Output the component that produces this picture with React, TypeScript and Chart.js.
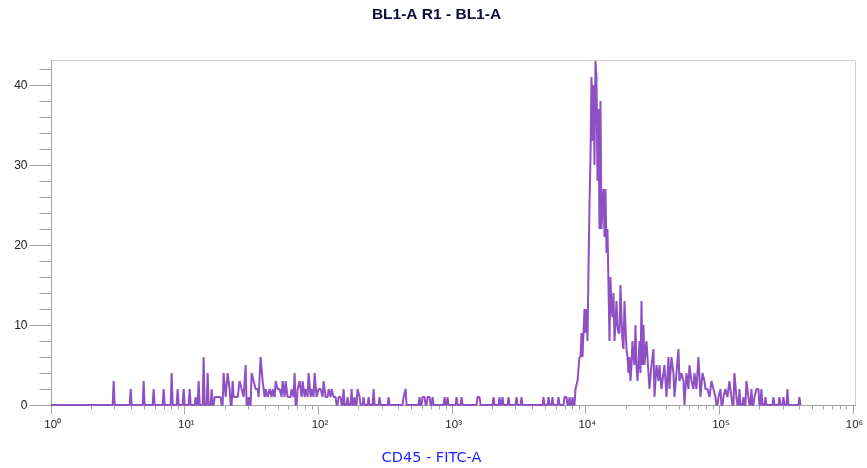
import { useEffect, useRef } from 'react';
import { Chart, registerables } from 'chart.js';

Chart.register(...registerables);

// Histogram bins: channel index (133.7 channels per decade, channel 0 = 10^0) and event counts
const CHANNELS_PER_DECADE = 133.7;
const END_CHANNEL = 750;

const binChannels = [
  63, 80, 93, 103, 113, 121, 127, 133, 139, 145, 148, 153, 157, 161, 164, 166, 168, 170, 173, 175,
  177, 179, 182, 183, 185, 187, 189, 191, 193, 195, 198, 201, 203, 205, 207, 208, 210, 212, 214, 215,
  217, 219, 221, 222, 224, 225, 227, 229, 231, 232, 234, 235, 237, 238, 240, 241, 243, 244, 247, 249,
  251, 252, 254, 255, 257, 258, 260, 261, 263, 264, 266, 268, 270, 272, 273, 275, 277, 278, 280, 281,
  283, 285, 288, 290, 293, 297, 301, 304, 307, 309, 313, 318, 323, 329, 338, 353, 355, 369, 372, 374,
  377, 379, 382, 394, 397, 406, 411, 427, 429, 443, 449, 452, 458, 466, 471, 493, 498, 502, 508, 514,
  516, 519, 522,
  525, 527, 529, 530, 531, 532, 533, 534, 535, 536, 537, 538, 539, 540, 541, 542, 543, 544, 545, 546,
  547, 548, 549, 550, 551, 552, 553, 554, 555, 556, 557, 558, 559, 560, 561, 562, 563, 564, 565, 566,
  567, 568, 569, 570, 571, 572, 573, 574, 575, 576, 577, 578, 579, 580, 581, 582, 583, 584, 585, 586,
  587, 588, 589, 590, 591, 592, 593, 594, 596, 598, 599, 601, 603, 604, 606, 608, 609, 611, 613, 614,
  616, 618, 619, 621, 623, 624, 626, 628, 629, 631, 633, 634, 636, 638, 639, 641, 643, 644, 646, 648,
  650, 652, 654, 655, 657, 659, 661, 663, 665, 668, 670, 673, 675, 677, 679, 681, 684, 686, 689, 693,
  696, 698, 701, 704, 706, 708, 711, 715, 723, 729, 733, 737, 749,
];

const binCounts = [
  3, 2, 3, 2, 2, 4, 2, 2, 2, 1, 3, 6, 4, 2, 1, 1, 1, 1, 4, 1,
  4, 2, 3, 1, 1, 1, 3, 2, 1, 5, 1, 4, 3, 2, 2, 1, 6, 3, 1, 2,
  1, 2, 1, 2, 1, 3, 2, 2, 1, 3, 1, 3, 1, 1, 1, 2, 1, 4, 2, 3,
  1, 3, 1, 2, 1, 4, 1, 2, 1, 4, 1, 2, 2, 1, 3, 1, 1, 2, 1, 2,
  1, 1, 1, 1, 2, 1, 2, 1, 2, 1, 1, 1, 2, 1, 1, 1, 2, 1, 1, 1,
  1, 1, 1, 1, 1, 1, 1, 1, 1, 1, 1, 1, 1, 1, 1, 1, 1, 1, 1, 1,
  1, 1, 1,
  2, 3, 6, 6, 9, 6, 9, 12, 9, 12, 8, 17, 25, 31, 41, 33, 40, 30, 43, 41,
  28, 37, 22, 38, 22, 25, 27, 21, 27, 19, 22, 15, 8, 16, 12, 11, 14, 8, 10, 13,
  10, 9, 9, 15, 11, 8, 7, 13, 10, 7, 6, 4, 6, 3, 5, 8, 6, 5, 10, 5,
  3, 5, 8, 4, 13, 5, 10, 5, 8, 4, 2, 5, 7, 1, 5, 3, 5, 2, 4, 5,
  1, 6, 2, 6, 4, 1, 4, 7, 3, 4, 3, 0, 4, 2, 5, 3, 2, 4, 2, 6,
  1, 4, 3, 2, 2, 1, 3, 2, 1, 1, 2, 1, 2, 1, 3, 1, 4, 1, 2, 1,
  3, 1, 2, 1, 2, 2, 2, 1, 1, 1, 1, 2, 1,
];

const yTickValues = [0, 2, 4, 6, 8, 10, 12, 14, 16, 18, 20, 22, 24, 26, 28, 30, 32, 34, 36, 38, 40, 42];
const yLabelValues = [0, 10, 20, 30, 40];
const xDecades = [0, 1, 2, 3, 4, 5, 6];
const xTickLabels = ['10⁰', '10¹', '10²', '10³', '10⁴', '10⁵', '10⁶'];
const xMinorMultipliers = [2, 3, 4, 5, 6, 7, 8, 9];
const chartTitle = 'BL1-A R1 - BL1-A';
const xAxisTitle = 'CD45 - FITC-A';

const X_MIN = 1;
const X_MAX = Math.pow(10, 6.018);
const Y_MAX = 43.1;

const chToX = (ch: number) => Math.pow(10, ch / CHANNELS_PER_DECADE);

function buildPoints() {
  const pts: { x: number; y: number }[] = [{ x: chToX(0), y: 0 }];
  let prev = 0;
  for (let i = 0; i < binChannels.length; i++) {
    const ch = binChannels[i];
    if (ch - prev >= 3) {
      pts.push({ x: chToX(prev + 1), y: 0 });
      pts.push({ x: chToX(ch - 1), y: 0 });
    }
    pts.push({ x: chToX(ch), y: binCounts[i] });
    prev = ch;
  }
  pts.push({ x: chToX(prev + 1), y: 0 });
  pts.push({ x: chToX(END_CHANNEL), y: 0 });
  return pts;
}

const axesPlugin = {
  id: 'cytoAxes',
  beforeDatasetsDraw(chart: any) {
    const { ctx, chartArea: a, scales } = chart;
    const xs = scales.x;
    const ys = scales.y;
    ctx.save();
    // frame (top/right)
    ctx.lineWidth = 1;
    ctx.strokeStyle = '#d2d2d2';
    ctx.beginPath();
    ctx.moveTo(a.left, Math.round(a.top) + 0.5);
    ctx.lineTo(Math.round(a.right) + 0.5, Math.round(a.top) + 0.5);
    ctx.lineTo(Math.round(a.right) + 0.5, a.bottom);
    ctx.stroke();

    // axes
    ctx.strokeStyle = '#a6a6a6';
    const lx = Math.round(a.left) + 0.5;
    const by = Math.round(a.bottom) + 0.5;
    ctx.beginPath();
    ctx.moveTo(lx, Math.round(a.top));
    ctx.lineTo(lx, by);
    ctx.lineTo(Math.round(a.right) + 1, by);
    ctx.stroke();

    // y ticks
    ctx.beginPath();
    for (const v of yTickValues) {
      const py = Math.round(ys.getPixelForValue(v)) + 0.5;
      const len = v % 10 === 0 ? 22 : 12;
      ctx.moveTo(lx - len, py);
      ctx.lineTo(lx, py);
    }
    // x ticks
    for (const d of xDecades) {
      const base = Math.pow(10, d);
      const px = Math.round(xs.getPixelForValue(base)) + 0.5;
      ctx.moveTo(px, by);
      ctx.lineTo(px, by + 9);
      if (d < 6) {
        for (const m of xMinorMultipliers) {
          const mx = Math.round(xs.getPixelForValue(m * base)) + 0.5;
          ctx.moveTo(mx, by);
          ctx.lineTo(mx, by + 4);
        }
      }
    }
    ctx.stroke();

    // y labels
    ctx.fillStyle = '#1e1e1e';
    ctx.font = '12px "Liberation Sans", Arial, sans-serif';
    ctx.textAlign = 'right';
    ctx.textBaseline = 'middle';
    for (const v of yLabelValues) {
      ctx.fillText(String(v), lx - 24, ys.getPixelForValue(v) + 1);
    }
    // x labels
    ctx.font = '11.5px "Liberation Sans", Arial, sans-serif';
    ctx.textAlign = 'center';
    ctx.textBaseline = 'alphabetic';
    xDecades.forEach((d, i) => {
      const px = xs.getPixelForValue(Math.pow(10, d));
      ctx.fillText(xTickLabels[i], px + 2, by + 22);
    });

    // title
    ctx.fillStyle = '#0c0c3c';
    ctx.font = 'bold 15.5px "Liberation Sans Narrow", "Liberation Sans", Arial, sans-serif';
    ctx.textAlign = 'center';
    ctx.textBaseline = 'middle';
    ctx.fillText(chartTitle, chart.width / 2 + 3, 15);

    // x axis title
    ctx.fillStyle = '#1f1fff';
    ctx.font = '14.5px "DejaVu Sans", sans-serif';
    ctx.fillText(xAxisTitle, chart.width / 2 - 2, 458);
    ctx.restore();
  },
};

export default function App() {
  const ref = useRef<HTMLCanvasElement>(null);
  useEffect(() => {
    document.body.style.margin = '0';
    const canvas = ref.current!;
    const chart = new Chart(canvas, {
      type: 'line',
      data: {
        datasets: [
          {
            data: buildPoints(),
            borderColor: '#8f50c4',
            borderWidth: 2,
            borderJoinStyle: 'bevel',
            pointRadius: 0,
            tension: 0,
            fill: false,
            clip: false as any,
          },
        ],
      },
      options: {
        animation: false,
        responsive: false,
        devicePixelRatio: 1,
        parsing: false as any,
        normalized: true,
        layout: { padding: { left: 50.7, right: 12, top: 60.3, bottom: 63 } },
        scales: {
          x: { type: 'logarithmic', min: X_MIN, max: X_MAX, display: false },
          y: { type: 'linear', min: 0, max: Y_MAX, display: false },
        },
        plugins: {
          legend: { display: false },
          tooltip: { enabled: false },
          title: { display: false },
        },
      },
      plugins: [axesPlugin],
    });
    return () => chart.destroy();
  }, []);
  return (
    <div style={{ width: 867, height: 468, background: '#ffffff' }}>
      <canvas ref={ref} width={867} height={468} style={{ display: 'block' }} />
    </div>
  );
}
